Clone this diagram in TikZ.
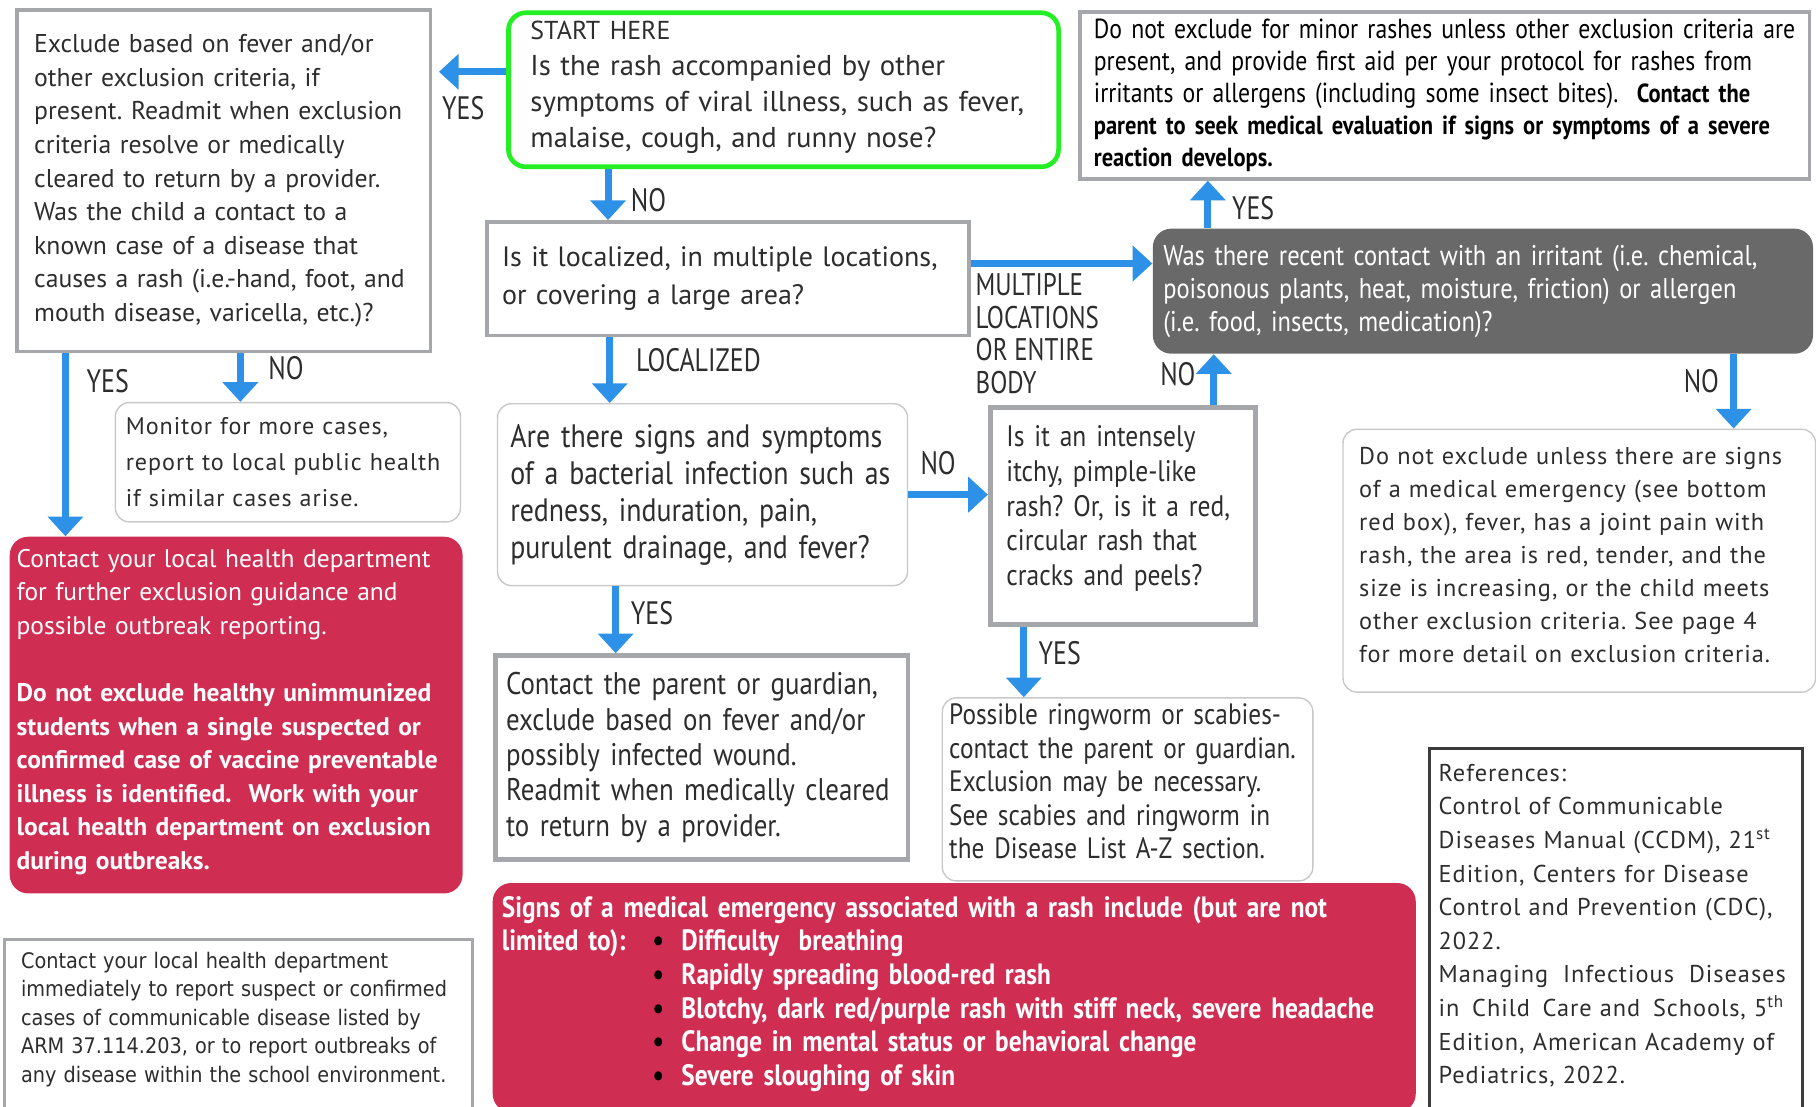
\documentclass[tikz,border=0pt]{standalone}
\usepackage{fontspec}
\setmainfont{PT Sans}
\newfontfamily\condfont{PT Sans}[FakeStretch=0.86]
\newfontfamily\lblfont{PT Sans}[FakeStretch=0.8]
\newfontfamily\widefont{PT Sans}[LetterSpace=4]
\newfontfamily\verdfont{DejaVu Sans}[FakeStretch=0.9]
\usetikzlibrary{arrows.meta}
\definecolor{flowblue}{RGB}{45,145,232}
\definecolor{boxgrey}{RGB}{165,167,170}
\definecolor{lightgrey}{RGB}{200,200,202}
\definecolor{darkbox}{RGB}{105,105,105}
\definecolor{alertred}{RGB}{208,45,82}
\definecolor{startgreen}{RGB}{36,238,36}
\definecolor{txt}{RGB}{45,45,45}
\frenchspacing
\hyphenpenalty=10000

\begin{document}
\begin{tikzpicture}[x=0.5pt,y=-0.5pt,
  box/.style={draw=boxgrey,line width=1.5pt,anchor=north west,align=left,text=txt,inner ysep=0pt},
  soft/.style={draw=lightgrey,line width=0.6pt,rounded corners=6pt,anchor=north west,align=left,text=txt,inner ysep=0pt},
  alert/.style={fill=alertred,rounded corners=8pt,anchor=north west,align=left,text=white,inner ysep=0pt},
  flow/.style={draw=flowblue,line width=3pt,-{Triangle[width=15pt,length=8.5pt]}},
  lbl/.style={font=\lblfont\fontsize{14}{14}\selectfont,text=txt,inner sep=0pt}]
\useasboundingbox (0,0) rectangle (1568,955);

% question boxes
\node[draw=startgreen,line width=2pt,rounded corners=7.5pt,anchor=north west,align=left,text=txt,
  minimum height=66.5pt,inner xsep=9.5pt,inner ysep=0pt,text width=218.5pt,
  font=\fontsize{12.4}{15.5}\selectfont] (start) at (437,9)
  {{\fontsize{11.2}{12}\selectfont START HERE}\\
   Is the rash accompanied by other\\
   symptoms of viral illness, such as fever,\\
   malaise, cough, and runny nose?\rule[-5pt]{0pt}{0pt}};
\node[box,minimum height=49pt,inner xsep=6.5pt,text width=195pt,
  font=\fontsize{12.1}{16}\selectfont] (loc) at (419,190)
  {Is it localized, in multiple locations,\\ or covering a large area?};
\node[soft,minimum height=78.5pt,inner xsep=5.5pt,text width=166pt,
  font=\condfont\fontsize{14}{16}\selectfont] (bact) at (429,348)
  {Are there signs and symptoms\\ of a bacterial infection such as\\
   redness, induration, pain,\\ purulent drainage, and fever?};
\node[box,line width=2pt,minimum height=93.5pt,inner xsep=7pt,text width=100.5pt,
  font=\condfont\fontsize{12.8}{15}\selectfont] (itchy) at (853,350)
  {Is it an intensely\\ itchy, pimple-like\\ rash? Or, is it a red,\\
   circular rash that\\ cracks and peels?\rule[-9pt]{0pt}{0pt}};
\node[fill=darkbox,rounded corners=8pt,anchor=north west,align=left,text=white,
  minimum height=54pt,inner xsep=4.5pt,inner ysep=0pt,text width=276pt,
  font=\condfont\fontsize{12.3}{14.25}\selectfont] (irr) at (995,197)
  {Was there recent contact with an irritant (i.e. chemical,\\
   poisonous plants, heat, moisture, friction) or allergen\\
   (i.e. food, insects, medication)?};

% outcome boxes
\node[box,minimum height=147.5pt,inner xsep=7.5pt,text width=163.5pt,
  font=\fontsize{11.1}{14.5}\selectfont] (excl) at (13,7)
  {Exclude based on fever and/or\\ other exclusion criteria, if\\
   present. Readmit when exclusion\\ criteria resolve or medically\\
   cleared to return by a provider.\\ Was the child a contact to a\\
   known case of a disease that\\ causes a rash (i.e.-hand, foot, and\\
   mouth disease, varicella, etc.)?};
\node[soft,minimum height=51.5pt,inner xsep=4.5pt,text width=140pt,
  font=\widefont\fontsize{10.4}{15.5}\selectfont] (monitor) at (99,347)
  {Monitor for more cases,\\ report to local public health\\ if similar cases arise.};
\node[alert,minimum height=154pt,inner xsep=3pt,text width=189.5pt,
  font=\fontsize{11}{14.5}\selectfont] (red) at (8,463)
  {Contact your local health department\\ for further exclusion guidance and\\
   possible outbreak reporting.\\[14.5pt]
   \bfseries Do not exclude healthy unimmunized\\ students when a single suspected or\\
   confirmed case of vaccine preventable\\ illness is identified.\ \ Work with your\\
   local health department on exclusion\\ during outbreaks.\rule[-5pt]{0pt}{0pt}};
\node[draw=boxgrey,line width=1.5pt,anchor=north west,align=left,text=black,
  minimum height=72pt,inner xsep=6pt,inner ysep=0pt,text width=303pt,
  font=\condfont\fontsize{11.9}{13.75}\selectfont] (minor) at (931,9)
  {Do not exclude for minor rashes unless other exclusion criteria are\\
   present, and provide first aid per your protocol for rashes from\\
   irritants or allergens (including some insect bites).\ \ {\bfseries\fontsize{11.3}{13.75}\selectfont Contact the}\\
   {\bfseries\fontsize{11.3}{13.75}\selectfont parent to seek medical evaluation if signs or symptoms of a severe}\\
   {\bfseries\fontsize{11.3}{13.75}\selectfont reaction develops.}};
\node[soft,minimum height=113.5pt,inner xsep=7pt,text width=190pt,
  font=\widefont\fontsize{10.5}{14.25}\selectfont] (donot) at (1159,370)
  {\makebox[190pt][s]{Do not exclude unless there are signs}\\
   \makebox[190pt][s]{of a medical emergency (see bottom}\\
   \makebox[190pt][s]{red box), fever, has a joint pain with}\\
   \makebox[190pt][s]{rash, the area is red, tender, and the}\\
   \makebox[190pt][s]{size is increasing, or the child meets}\\
   \makebox[190pt][s]{other exclusion criteria. See page 4}\\
   for more detail on exclusion criteria.\rule[-5pt]{0pt}{0pt}};
\node[box,line width=2pt,minimum height=88pt,inner xsep=4.5pt,text width=169pt,
  font=\condfont\fontsize{13.5}{15.25}\selectfont] (parent) at (426,564)
  {Contact the parent or guardian,\\ exclude based on fever and/or\\
   possibly infected wound.\\ Readmit when medically cleared\\ to return by a provider.};
\node[soft,minimum height=79pt,inner xsep=3pt,text width=154pt,
  font=\condfont\fontsize{12.7}{14.5}\selectfont] (ring) at (813,602)
  {Possible ringworm or scabies-\\ contact the parent or guardian.\\
   Exclusion may be necessary.\\ See scabies and ringworm in\\ the Disease List A-Z section.\rule[-7pt]{0pt}{0pt}};

% notes along the bottom
\node[box,line width=1.2pt,minimum height=75pt,inner xsep=7pt,text width=188pt,
  font=\verdfont\fontsize{9.25}{12.25}\selectfont] (report) at (3,810)
  {Contact your local health department\\ immediately to report suspect or confirmed\\
   cases of communicable disease listed by\\ ARM 37.114.203, or to report outbreaks of\\
   any disease within the school environment.\rule[-8pt]{0pt}{0pt}};
\node[alert,minimum height=99pt,inner xsep=4pt,text width=390.5pt,
  font=\condfont\bfseries\fontsize{12.7}{14.5}\selectfont] (emerg) at (425,762)
  {Signs of a medical emergency associated with a rash include (but are not\\
   \makebox[65pt][l]{limited to):}\makebox[12.5pt][l]{\color{black}\textbullet}Difficulty\ \ breathing\\
   \hspace*{65pt}\makebox[12.5pt][l]{\color{black}\textbullet}Rapidly spreading blood-red rash\\
   \hspace*{65pt}\makebox[12.5pt][l]{\color{black}\textbullet}Blotchy, dark red/purple rash with stiff neck, severe headache\\
   \hspace*{65pt}\makebox[12.5pt][l]{\color{black}\textbullet}Change in mental status or behavioral change\\
   \hspace*{65pt}\makebox[12.5pt][l]{\color{black}\textbullet}Severe sloughing of skin\rule[-6pt]{0pt}{0pt}};
\node[draw={rgb,255:red,60;green,60;blue,60},line width=1.2pt,anchor=north west,align=left,text=txt,
  minimum height=157.5pt,inner xsep=4pt,inner ysep=0pt,text width=153pt,
  font=\widefont\fontsize{10.5}{14.5}\selectfont] (refs) at (1233,645)
  {References:\\ Control of Communicable\\ Diseases Manual (CCDM), 21\textsuperscript{st}\\
   Edition, Centers for Disease\\ Control and Prevention (CDC),\\ 2022.\\
   Managing\hspace{3pt} Infectious\hspace{3pt} Diseases\\ in\hspace{2pt} Child\hspace{2pt} Care and\hspace{2pt} Schools, 5\textsuperscript{th}\\
   Edition, American Academy of\\ Pediatrics, 2022.\rule[-6pt]{0pt}{0pt}};

% arrows
\draw[flow,shorten >=3pt] ([yshift=7.75pt]start.west) -- ([yshift=7.75pt]start.west -| excl.east);
\draw[flow] ([xshift=-75.75pt]start.south) -- ([xshift=-75.75pt]start.south |- loc.north);
\draw[flow] ([xshift=-51pt]loc.south) -- ([xshift=-51pt]loc.south |- bact.north);
\draw[flow] ([yshift=6.5pt]loc.east) -- ([yshift=6.5pt]loc.east -| irr.west);
\draw[flow] ([xshift=-118.75pt]irr.north) -- ([xshift=-118.75pt]irr.north |- minor.south);
\draw[flow] ([xshift=39.25pt]itchy.north) -- ([xshift=39.25pt]itchy.north |- irr.south);
\draw[flow] ([xshift=108.25pt]irr.south) -- ([xshift=108.25pt]irr.south |- donot.north);
\draw[flow] (bact.east) -- (bact.east -| itchy.west);
\draw[flow] ([xshift=-37.5pt]bact.south) -- ([xshift=-37.5pt]bact.south |- parent.north);
\draw[flow] ([xshift=-42.75pt]itchy.south) -- ([xshift=-42.75pt]itchy.south |- ring.north);
\draw[flow] ([xshift=-68.25pt]excl.south) -- ([xshift=-68.25pt]excl.south |- red.north);
\draw[flow] ([xshift=7.25pt]excl.south) -- ([xshift=7.25pt]excl.south |- monitor.north);

% arrow labels
\node[lbl] (yesexcl) at (400,93) {YES};
\node[lbl] (noloc) at (560,173) {NO};
\node[lbl] (localized) at (603,311) {LOCALIZED};
\node[lbl,anchor=west,align=left,font=\lblfont\fontsize{13.5}{14}\selectfont] (multiple) at (842,288)
  {MULTIPLE\\ LOCATIONS\\ OR ENTIRE\\ BODY};
\node[lbl] (yesminor) at (1082,180) {YES};
\node[lbl] (noirr) at (1017,323) {NO};
\node[lbl] (nodonot) at (1469,329) {NO};
\node[lbl] (noitchy) at (810,400) {NO};
\node[lbl] (yesparent) at (563,529) {YES};
\node[lbl] (yesring) at (915,564) {YES};
\node[lbl] (yesred) at (93,329) {YES};
\node[lbl] (nomonitor) at (247,318) {NO};
\end{tikzpicture}
\end{document}
